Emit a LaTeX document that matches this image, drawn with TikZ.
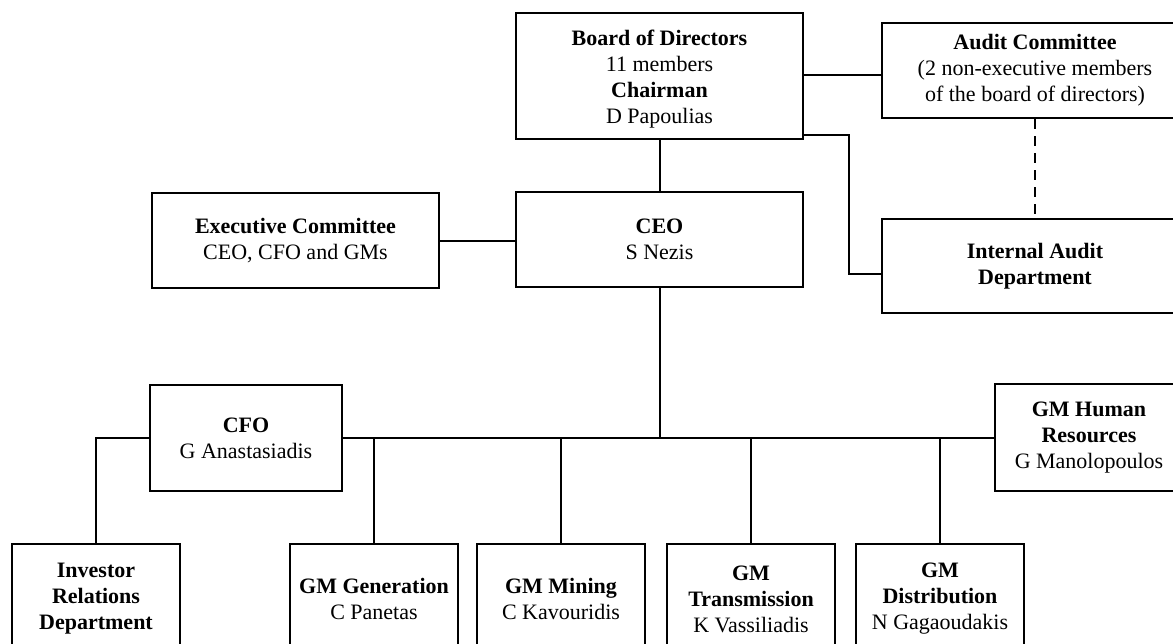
\documentclass[tikz,border=0pt]{standalone}
\usepackage{fontspec}
\setmainfont{Liberation Serif}

\begin{document}
\begin{tikzpicture}[x=0.5pt, y=-0.5pt, line width=1pt,
        unit/.style={draw, align=center, inner sep=0pt, font=\fontsize{11}{13}\selectfont},
        wide/.style={unit, minimum width=143.5pt, minimum height=47.5pt},
        low/.style={unit, minimum width=84pt, minimum height=55pt}]
    \useasboundingbox (0,0) rectangle (1173,643);
    \clip (0,0) rectangle (1173,643);

    \begin{scope} % Top of the chart
        \node[wide, minimum height=63pt] (board) at (659.5,76) {\rule{0pt}{11pt}\textbf{Board of Directors}\\11 members\\\textbf{Chairman}\\D Papoulias};
        \node[unit, minimum width=153pt, minimum height=47.5pt] (audit) at (1035,70.5) {\textbf{Audit Committee}\\(2 non-executive members\\of the board of directors)};
        \node[unit, minimum width=153pt, minimum height=47pt] (internal) at (1035,266) {\textbf{Internal Audit}\\\textbf{Department}};
        \node[wide] (ceo) at (659.5,239.5) {\textbf{CEO}\\S Nezis};
        \node[wide] (exec) at (295.5,240.5) {\textbf{Executive Committee}\\CEO, CFO and GMs};

        \draw (board.east |- 0,75) -- (audit.west |- 0,75);
        \draw ([yshift=2.5pt]board.south east) -| ([xshift=-16pt,yshift=-4pt]internal.west) -- ([yshift=-4pt]internal.west);
        \draw[dash pattern=on 5pt off 3.5pt] (audit.south) -- (internal.north);
        \draw (board.south) -- (ceo.north);
        \draw (exec.east) -- (exec.east -| ceo.west);
    \end{scope}

    \begin{scope} % General managers
        \node[unit, minimum width=96pt, minimum height=53pt] (cfo) at (246,438) {\textbf{CFO}\\G Anastasiadis};
        \node[unit, minimum width=94pt, minimum height=53.5pt] (hr) at (1089,437.5) {\textbf{GM Human}\\\textbf{Resources}\\G Manolopoulos};

        \node[low] (investor) at (96,599) {\textbf{Investor}\\\textbf{Relations}\\\textbf{Department}};
        \node[low] (generation) at (374,599) {\textbf{GM Generation}\\C Panetas};
        \node[low] (mining) at (561,599) {\textbf{GM Mining}\\C Kavouridis};
        \node[low] (transmission) at (751,599) {\textbf{GM}\\\textbf{Transmission}\\K Vassiliadis};
        \node[low] (distribution) at (940,599) {\textbf{GM}\\\textbf{Distribution}\\N Gagaoudakis};

        \draw (cfo.east) -- (cfo.east -| hr.west);
        \draw (ceo.south) -- (ceo.south |- cfo.east);
        \draw (cfo.west) -| (investor.north);
        \foreach \gm in {generation, mining, transmission, distribution}
            \draw (\gm.north) -- (\gm.north |- cfo.east);
    \end{scope}
\end{tikzpicture}
\end{document}
